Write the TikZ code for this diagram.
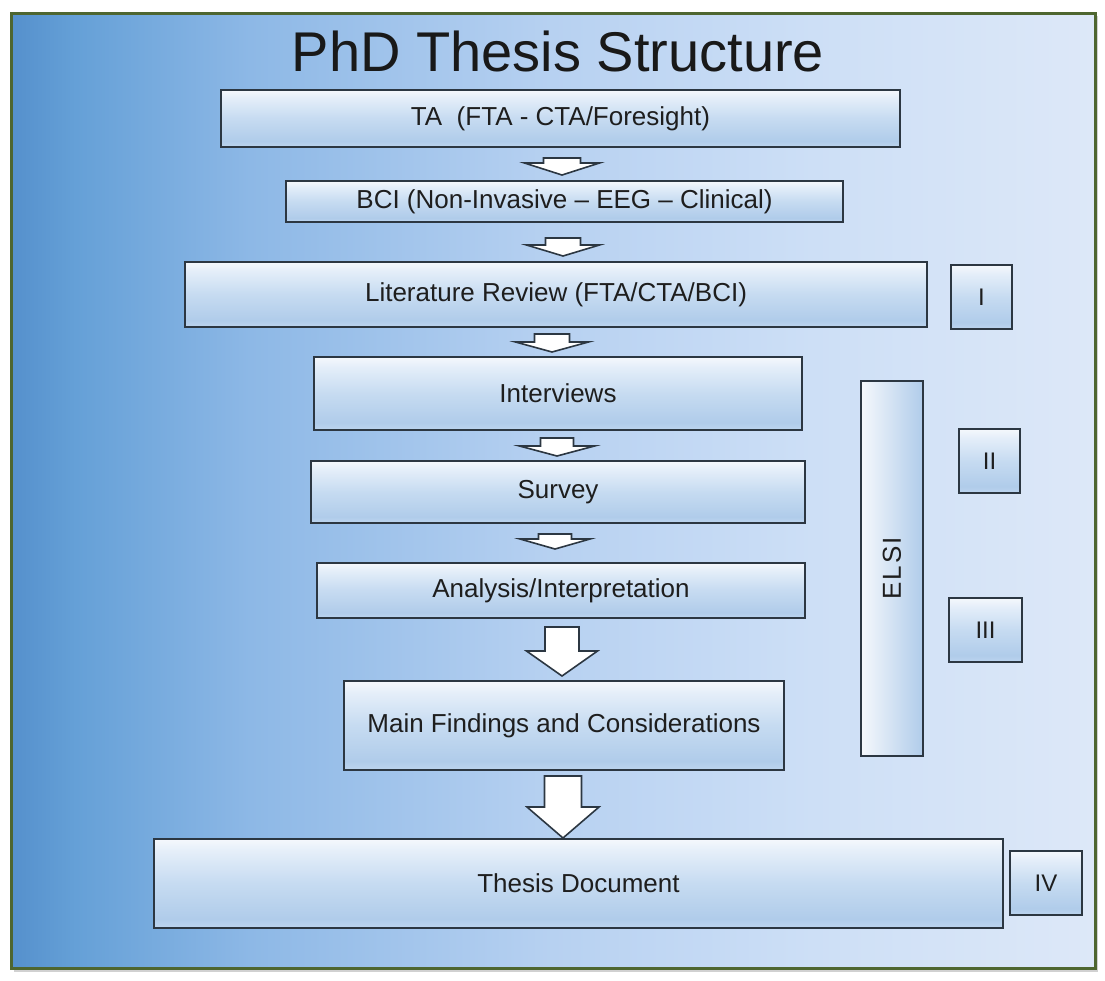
\documentclass[tikz,border=0pt]{standalone}
\usepackage{fontspec}
\setmainfont{Liberation Sans}
\usetikzlibrary{calc}
\definecolor{bg0}{HTML}{5590CC}
\definecolor{bg1}{HTML}{65A0D7}
\definecolor{bg2}{HTML}{8DB8E6}
\definecolor{bg3}{HTML}{B7D1F1}
\definecolor{bg4}{HTML}{CDDFF6}
\definecolor{bg5}{HTML}{DDE8F8}
\definecolor{frameol}{HTML}{4E6630}
\definecolor{bordercol}{HTML}{2C3742}
\definecolor{bxT}{HTML}{F5F8FC}
\definecolor{bxT2}{HTML}{E4EEF9}
\definecolor{bxM}{HTML}{C6DBF1}
\definecolor{bxC}{HTML}{B0CCEA}
\definecolor{bxB}{HTML}{BDD5EF}
\definecolor{txt}{HTML}{1E1E1E}
\pgfdeclarehorizontalshading{bgshade}{100bp}{color(0bp)=(bg0); color(25bp)=(bg0); color(28bp)=(bg1); color(36bp)=(bg2); color(50bp)=(bg3); color(62bp)=(bg4); color(75bp)=(bg5); color(100bp)=(bg5)}
\pgfdeclareverticalshading{boxshade}{100bp}{color(0bp)=(bxB); color(25bp)=(bxB); color(30bp)=(bxC); color(50bp)=(bxM); color(68bp)=(bxT2); color(75bp)=(bxT); color(100bp)=(bxT)}
\tikzset{
  box/.style={draw=bordercol, line width=2pt, shade, shading=boxshade, inner sep=0pt,
    text=txt, font=\fontsize{26}{30}\selectfont},
  numbox/.style={box, font=\fontsize{24}{28}\selectfont},
  vbox/.style={draw=bordercol, line width=2pt, left color=bxT, right color=bxC, inner sep=0pt,
    text=txt, font=\fontsize{26}{30}\selectfont},
  barrow/.style={draw=bordercol, line width=1.6pt, fill=white, line join=miter},
}
% #1 from, #2 to, #3 x, #4 top gap, #5 tip gap, #6 shaft half, #7 head half, #8 head length
\newcommand\blkarrow[8]{%
  \path[barrow] let \p1=(#1.south), \p2=(#2.north) in
    (#3pt-#6pt, \y1-#4pt) -- (#3pt+#6pt, \y1-#4pt)
    -- (#3pt+#6pt, \y2+#5pt+#8pt) -- (#3pt+#7pt, \y2+#5pt+#8pt)
    -- (#3pt, \y2+#5pt)
    -- (#3pt-#7pt, \y2+#5pt+#8pt) -- (#3pt-#6pt, \y2+#5pt+#8pt) -- cycle;}
\begin{document}
\begin{tikzpicture}[x=1pt,y=-1pt]
\useasboundingbox (0,0) rectangle (1105,980);
\fill[white] (0,0) rectangle (1105,980);
% frame
\fill[black!18] (14,16) rectangle (1098,972);
\shade[shading=bgshade] (11,13) rectangle (1095,968);
\draw[frameol, line width=3pt] (11,13) rectangle (1095,968);
% title
\node[anchor=base, text=black!90, font=\fontsize{56}{60}\selectfont] (title) at (558,71) {PhD Thesis Structure};
% main column
\node[box, minimum width=679, minimum height=57] (ta) at (560.5,118.5) {TA\ \ (FTA - CTA/Foresight)};
\node[box, minimum width=557, minimum height=41] (bci) at (564.5,201.5) {BCI (Non-Invasive – EEG – Clinical)};
\node[box, minimum width=742, minimum height=65] (lit) at (556,294.5) {Literature Review (FTA/CTA/BCI)};
\node[box, minimum width=488, minimum height=73] (int) at (558,393.5) {Interviews};
\node[box, minimum width=494, minimum height=62] (sur) at (558,492) {Survey};
\node[box, minimum width=488, minimum height=55] (ana) at (561,590.5) {Analysis/Interpretation};
\node[box, minimum width=440, minimum height=89] (main) at (564,725.5) {Main Findings and Considerations};
\node[box, minimum width=849, minimum height=89] (thesis) at (578.5,883.5) {Thesis Document};
% side column
\node[vbox, minimum width=62, minimum height=375] (elsi) at (892,568.5) {\rotatebox{90}{E\kern2pt L\kern2pt S\kern2pt I}};
\node[numbox, minimum width=61, minimum height=64] (n1) at (981.5,297) {I};
\node[numbox, minimum width=61, minimum height=64] (n2) at (989.5,461) {II};
\node[numbox, minimum width=73, minimum height=64] (n3) at (985.5,630) {III};
\node[numbox, minimum width=72, minimum height=64] (n4) at (1046,883) {IV};
% arrows
\blkarrow{ta}{bci}{562}{10}{5}{18.5}{37.5}{12}
\blkarrow{bci}{lit}{563}{15}{5}{17.5}{36.5}{11}
\blkarrow{lit}{int}{552}{6}{4}{17.5}{36.5}{10}
\blkarrow{int}{sur}{557}{7}{4}{16.5}{37.5}{10}
\blkarrow{sur}{ana}{555}{10}{13}{16.5}{35}{10}
\blkarrow{ana}{main}{562}{8}{4}{17}{35.5}{25}
\blkarrow{main}{thesis}{563}{5}{0}{18.5}{36}{31}
\end{tikzpicture}
\end{document}
